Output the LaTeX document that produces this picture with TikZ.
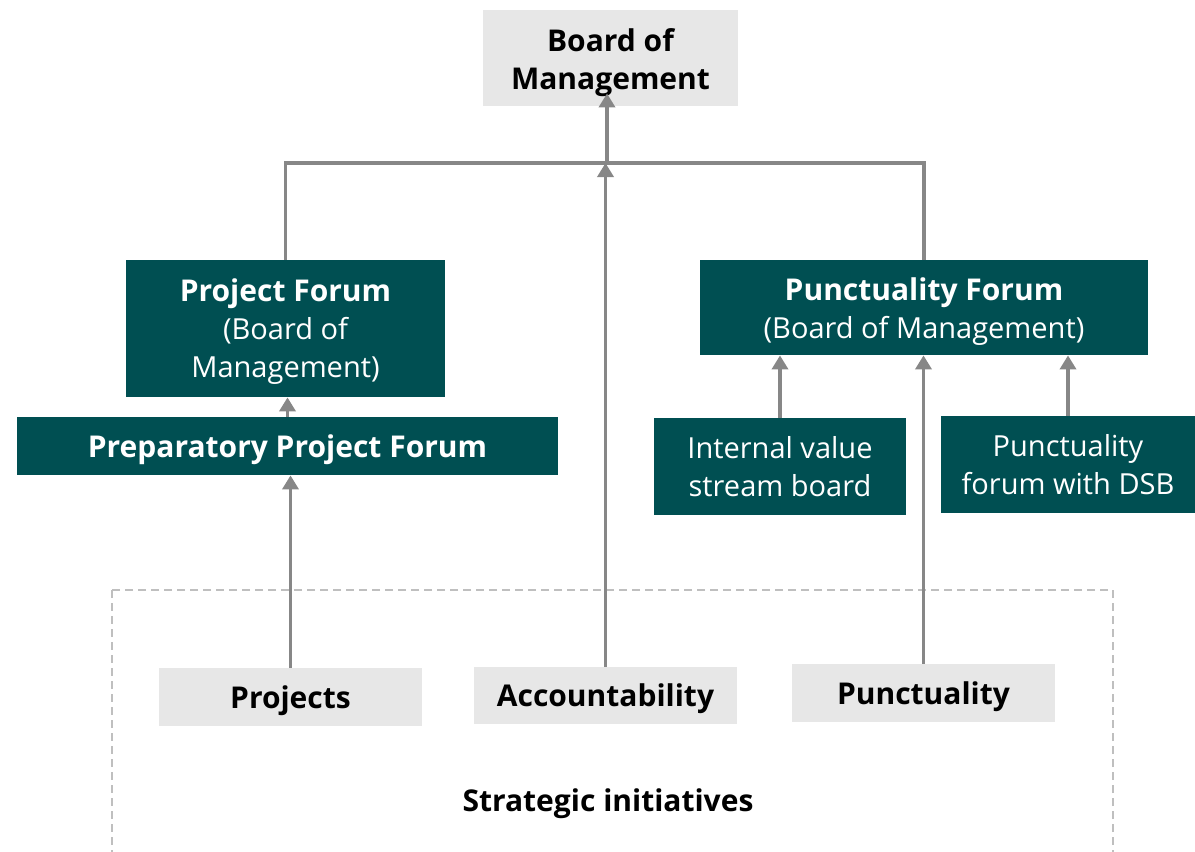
\documentclass[tikz,border=0pt]{standalone}
\usepackage{fontspec}
\setmainfont{Open Sans}
\usetikzlibrary{arrows.meta,positioning}
\definecolor{forumteal}{HTML}{004F52}
\definecolor{initgray}{HTML}{E7E7E7}
\definecolor{linegray}{HTML}{878787}
\definecolor{dashgray}{HTML}{BFBFBF}
\newcommand{\boldtxt}{\fontsize{15}{19}\selectfont\bfseries}

\begin{document}
\begin{tikzpicture}[x=0.5pt,y=-0.5pt,
   every node/.style={font=\fontsize{14.5}{19}\selectfont,align=center,inner sep=0pt},
   initiative/.style={fill=initgray,text=black,font=\boldtxt,
      minimum width=131.5pt,minimum height=29pt},
   oneline/.style={text height=11pt,text depth=0pt},
   forum/.style={fill=forumteal,text=white},
   link/.style={draw=linegray,line width=1.8pt},
   arr/.style={link,-{Triangle[width=8pt,length=7pt]}}]
   \useasboundingbox (0,0) rectangle (1195,852);
   \draw[dashgray,line width=1pt,dash pattern=on 4pt off 2.5pt] (112,590) rectangle (1113,880);
   \node[initiative,minimum width=127.5pt,minimum height=48pt] (bom) at (610.5,58) {\rule{0pt}{16pt}Board of\\Management};
   \node[forum,minimum width=159.5pt,minimum height=68.5pt] (pf) at (285.5,328.5) {\rule{0pt}{14pt}{\boldtxt Project Forum}\\(Board of\\Management)};
   \node[forum,oneline,minimum width=270.5pt,minimum height=29pt,font=\boldtxt] (ppf) at (287.5,446) {Preparatory Project Forum};
   \node[forum,minimum width=224pt,minimum height=47.5pt] (puf) at (924,307.5) {\rule{0pt}{15pt}{\boldtxt Punctuality Forum}\\(Board of Management)};
   \node[forum,minimum width=126pt,minimum height=48.5pt] (ivsb) at (780,466.5) {Internal value\\stream board};
   \node[forum,minimum width=127pt,minimum height=48.5pt] (dsb) at (1068,464.5) {Punctuality\\forum with DSB};
   \node[initiative,oneline] (proj) at (290.5,697) {Projects};
   \node[initiative,oneline,minimum height=28.5pt] (acc) at (605.5,695.5) {Accountability};
   \node[initiative,oneline] (punc) at (923.5,693) {Punctuality};
   \node[oneline,font=\boldtxt] (strat) at (608,800) {Strategic initiatives};
   \coordinate (junc) at (607,163);
   \draw[link] (pf.north) |- (junc) -| (puf.north);
   \draw[arr,shorten >=-6.5pt] (junc) -- (junc |- bom.south);
   \draw[arr] (acc.north) -- (acc.north |- junc);
   \draw[arr] (ppf.north) -- (ppf.north |- pf.south);
   \draw[arr] (proj.north) -- (proj.north |- ppf.south);
   \draw[arr] (ivsb.north) -- (ivsb.north |- puf.south);
   \draw[arr] (dsb.north) -- (dsb.north |- puf.south);
   \draw[arr] (punc.north) -- (punc.north |- puf.south);
\end{tikzpicture}
\end{document}
